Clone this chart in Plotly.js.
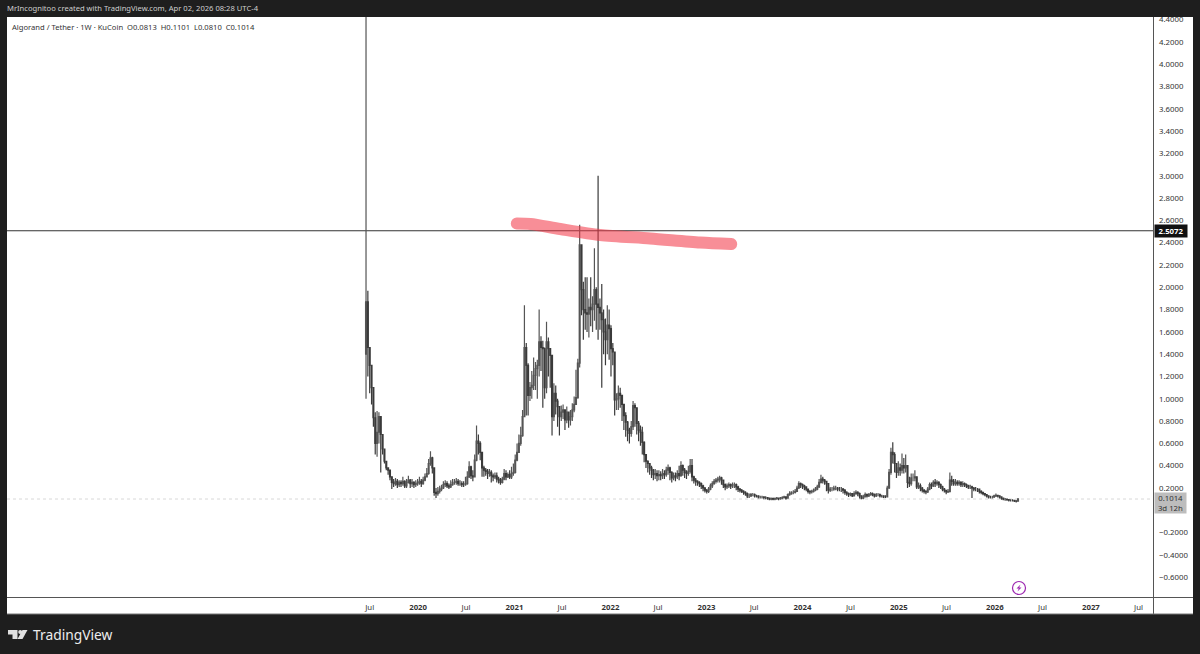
<!DOCTYPE html>
<html><head><meta charset="utf-8">
<script src="https://cdn.plot.ly/plotly-3.0.1.min.js"></script>
<style>html,body{margin:0;padding:0;background:#1e1e1e}#c{width:1200px;height:654px}</style>
</head><body><div id="c"></div>
<script>
const firstWeek = "2019-06-17";
const firstOpen = 1.40;
const closes = [
1.87,1.46,1.30,1.10,.83,.60,.70,.84,.68,.55,
.44,.38,.36,.30,.25,.24,.26,.23,.25,.24,
.26,.22,.25,.27,.24,.25,.23,.24,.25,.26,
.24,.27,.30,.33,.42,.47,.38,.16,.15,.17,
.19,.20,.23,.24,.22,.21,.23,.25,.25,.26,
.24,.24,.23,.23,.24,.30,.39,.31,.30,.45,
.62,.60,.52,.38,.36,.35,.33,.34,.31,.30,
.31,.28,.27,.25,.28,.33,.30,.32,.30,.33,
.34,.45,.52,.60,.67,.84,1.46,1.30,1.03,1.10,
1.12,1.21,1.27,1.30,1.51,1.46,1.45,1.10,1.51,1.45,
1.39,.84,1.05,.98,.93,.84,.88,.90,.81,.88,
.81,.84,.90,.95,1.01,1.32,2.38,1.98,1.80,1.77,
1.76,1.82,1.80,1.85,1.98,1.85,1.82,1.77,1.71,1.60,
1.53,1.66,1.63,1.45,1.42,.99,1.00,1.05,1.03,.95,
.85,.79,.72,.69,.75,.94,.92,.78,.72,.70,
.61,.50,.44,.42,.38,.36,.32,.33,.31,.32,
.31,.33,.32,.36,.38,.34,.29,.31,.30,.33,
.31,.40,.36,.34,.33,.35,.40,.30,.27,.26,
.25,.24,.22,.20,.18,.17,.19,.22,.24,.26,
.27,.28,.29,.27,.23,.21,.22,.23,.22,.23,
.23,.21,.19,.18,.17,.16,.15,.13,.13,.14,
.14,.13,.13,.12,.12,.12,.115,.115,.11,.10,
.105,.10,.105,.11,.105,.11,.115,.12,.11,.14,
.15,.16,.16,.17,.20,.24,.23,.22,.21,.19,
.17,.165,.17,.18,.19,.21,.25,.28,.27,.26,
.24,.18,.19,.19,.20,.20,.19,.19,.19,.18,
.16,.15,.14,.15,.13,.15,.16,.15,.13,.11,
.12,.14,.13,.14,.15,.14,.13,.14,.14,.13,
.13,.12,.12,.20,.34,.52,.50,.42,.34,.38,
.36,.40,.38,.40,.25,.24,.29,.29,.30,.21,
.22,.20,.18,.17,.165,.19,.23,.22,.25,.24,
.25,.23,.21,.19,.18,.165,.17,.27,.26,.24,
.25,.24,.25,.23,.24,.23,.22,.21,.21,.20,
.19,.19,.19,.17,.16,.15,.14,.13,.12,.12,
.12,.13,.135,.13,.12,.11,.10,.10,.095,.09,
.09,.09,.085,.0813,.1014];
const highs = [
4.70,1.97,1.46,1.30,1.10,.88,.89,.88,.84,.68,
.55,.44,.38,.36,.30,.28,.29,.28,.27,.27,
.30,.27,.28,.31,.28,.28,.26,.27,.28,.30,
.28,.30,.33,.38,.46,.53,.48,.38,.20,.21,
.22,.23,.26,.27,.26,.24,.27,.28,.28,.29,
.28,.27,.26,.26,.30,.35,.44,.40,.36,.50,
.76,.68,.62,.52,.40,.38,.37,.37,.36,.33,
.34,.34,.30,.29,.30,.37,.36,.34,.36,.39,
.42,.50,.60,.68,.75,.90,1.84,1.50,1.32,1.15,
1.25,1.37,1.33,1.35,1.80,1.56,1.52,1.46,1.69,1.55,
1.45,1.39,1.14,1.12,1.00,.93,.94,.95,.90,.93,
.88,.90,.96,1.02,1.26,1.36,2.56,2.38,2.05,2.09,
2.09,1.90,2.09,1.92,2.35,2.00,3.00,1.90,2.03,1.80,
1.72,1.84,1.80,1.66,1.50,1.42,1.05,1.12,1.10,1.03,
.95,.88,.80,.74,.80,.98,.96,.92,.80,.76,
.75,.62,.50,.45,.42,.40,.37,.37,.36,.36,
.35,.37,.36,.39,.41,.39,.35,.34,.34,.36,
.40,.44,.41,.38,.36,.40,.46,.46,.31,.29,
.27,.26,.25,.23,.21,.19,.21,.24,.26,.28,
.29,.30,.31,.30,.27,.24,.24,.25,.24,.25,
.25,.24,.22,.20,.19,.18,.17,.16,.15,.155,
.155,.15,.14,.135,.13,.13,.125,.125,.12,.115,
.115,.115,.115,.12,.115,.12,.125,.13,.125,.15,
.17,.17,.18,.19,.22,.26,.25,.24,.23,.21,
.19,.18,.185,.195,.21,.23,.28,.32,.30,.28,
.26,.24,.21,.21,.22,.22,.21,.21,.21,.20,
.19,.17,.16,.16,.155,.17,.18,.17,.16,.13,
.14,.16,.15,.155,.165,.16,.15,.155,.155,.15,
.14,.135,.135,.22,.37,.56,.61,.52,.42,.44,
.42,.51,.47,.50,.40,.30,.33,.33,.36,.30,
.25,.24,.21,.19,.18,.21,.25,.25,.27,.28,
.27,.26,.24,.22,.20,.185,.19,.34,.31,.28,
.28,.27,.27,.26,.26,.25,.24,.23,.23,.22,
.21,.21,.20,.19,.18,.165,.155,.145,.135,.13,
.13,.14,.15,.14,.135,.125,.115,.11,.105,.10,
.10,.10,.095,.09,.1101];
const lows = [
1.00,1.20,1.05,.95,.75,.50,.48,.60,.34,.50,
.42,.36,.32,.27,.19,.21,.22,.20,.21,.21,
.22,.20,.20,.24,.20,.21,.20,.21,.22,.23,
.21,.23,.26,.30,.32,.40,.33,.13,.11,.13,
.15,.17,.19,.21,.20,.19,.20,.22,.23,.23,
.22,.22,.21,.21,.22,.23,.29,.28,.26,.30,
.44,.50,.45,.30,.30,.31,.28,.30,.25,.26,
.28,.25,.24,.23,.24,.27,.27,.29,.28,.28,
.31,.33,.44,.52,.58,.66,.84,.85,.85,.98,
1.00,1.08,1.08,1.00,1.20,1.25,.92,1.00,1.05,1.20,
1.10,.67,.80,.86,.75,.67,.80,.82,.72,.78,
.74,.76,.80,.88,.95,1.00,1.28,1.75,1.53,1.62,
1.60,1.55,1.65,1.60,1.70,1.62,1.53,1.62,1.10,1.40,
1.30,1.40,1.35,1.20,1.30,.85,.90,.90,.92,.80,
.72,.66,.62,.60,.66,.72,.75,.68,.62,.58,
.50,.43,.38,.34,.32,.29,.27,.28,.26,.27,
.27,.28,.28,.30,.32,.27,.25,.27,.26,.28,
.27,.30,.31,.29,.28,.31,.33,.26,.24,.22,
.22,.21,.19,.17,.16,.15,.155,.18,.20,.23,
.24,.25,.25,.23,.20,.18,.19,.20,.19,.20,
.20,.18,.165,.16,.155,.14,.13,.11,.11,.12,
.125,.115,.115,.105,.105,.105,.10,.10,.095,.09,
.09,.09,.09,.095,.09,.095,.10,.105,.095,.105,
.13,.14,.145,.15,.165,.19,.20,.19,.18,.17,
.15,.145,.15,.16,.17,.18,.20,.24,.24,.23,
.17,.15,.165,.17,.175,.18,.17,.17,.165,.15,
.14,.13,.12,.125,.12,.125,.14,.125,.105,.10,
.10,.115,.115,.12,.13,.125,.115,.12,.125,.115,
.115,.11,.11,.115,.19,.32,.42,.34,.29,.31,
.31,.33,.33,.34,.20,.21,.22,.26,.26,.19,
.19,.17,.16,.15,.145,.155,.18,.19,.21,.21,
.22,.20,.19,.17,.16,.145,.155,.16,.22,.22,
.22,.22,.22,.21,.21,.21,.20,.19,.19,.11,
.17,.17,.165,.15,.145,.135,.125,.115,.105,.105,
.105,.11,.12,.115,.105,.095,.09,.085,.085,.08,
.08,.08,.075,.07,.081];
const timeTickDates = ["2019-07-01","2020-01-01","2020-07-01","2021-01-01","2021-07-01","2022-01-01","2022-07-01","2023-01-01","2023-07-01","2024-01-01","2024-07-01","2025-01-01","2025-07-01","2026-01-01","2026-07-01","2027-01-01","2027-07-01"];
const timeTickLabels = ["Jul","<b>2020</b>","Jul","<b>2021</b>","Jul","<b>2022</b>","Jul","<b>2023</b>","Jul","<b>2024</b>","Jul","<b>2025</b>","Jul","<b>2026</b>","Jul","<b>2027</b>","Jul"];
const priceTicks = [-0.6,-0.4,-0.2,0.2,0.4,0.6,0.8,1,1.2,1.4,1.6,1.8,2,2.2,2.4,2.6,2.8,3,3.2,3.4,3.6,3.8,4,4.2,4.4];
const brushDates = ["2021-01-10","2021-03-03","2021-06-24","2021-11-23","2022-06-01","2022-12-08","2023-04-05"];
const brushValues = [2.572,2.568,2.523,2.469,2.438,2.402,2.388];
const levelPrice = 2.5072;
const lastPrice = 0.1014;
const headerText = "MrIncognitoo created with TradingView.com, Apr 02, 2026 08:28 UTC-4";
const legendText = "Algorand / Tether · 1W · KuCoin  O0.0813  H0.1101  L0.0810  C0.1014";

const weeks = closes.map((_, i) => {
  const d = new Date(firstWeek + "T00:00:00Z");
  d.setUTCDate(d.getUTCDate() + 7 * i);
  return d.toISOString().slice(0, 10);
});
const opens = closes.map((c, i) => i === 0 ? firstOpen : closes[i - 1]);

// pixel helpers for the page furniture (not for data)
const L = 7, R = 1153, T = 17, B = 598;
const px = v => (v - L) / (R - L);
const py = v => (B - v) / (B - T);
const rect = (x0, y0, x1, y1, fill, layer) => ({type:"rect", xref:"paper", yref:"paper", x0:px(x0), x1:px(x1), y0:py(y0), y1:py(y1), fillcolor:fill, line:{width:0}, layer:layer||"below"});
const seg = (x0, y0, x1, y1, col) => ({type:"line", xref:"paper", yref:"paper", x0:px(x0), x1:px(x1), y0:py(y0), y1:py(y1), line:{color:col, width:1}, layer:"below"});
const poly = (pts, fill, lineCol) => ({type:"path", xref:"paper", yref:"paper", path:"M" + pts.map(p => px(p[0]) + "," + py(p[1])).join(" L") + " Z", fillcolor:fill, line:{width:lineCol?1:0, color:lineCol||fill}, layer:"above"});
const FONT = "Noto Sans, Liberation Sans, sans-serif";
const text = (x, y, t, size, col, anchor, extra) => Object.assign({xref:"paper", yref:"paper", x:px(x), y:py(y), text:t, showarrow:false, xanchor:anchor||"left", yanchor:"middle", font:{family:FONT, size:size, color:col}, borderpad:0}, extra||{});

const data = [
  {type:"candlestick", x:weeks, open:opens, high:highs, low:lows, close:closes,
   increasing:{line:{color:"#555555", width:1.2}, fillcolor:"#777777"},
   decreasing:{line:{color:"#3a3a3a", width:1.2}, fillcolor:"#2a2a2a"},
   whiskerwidth:0, hoverinfo:"skip", showlegend:false},
  {type:"scatter", mode:"lines", x:brushDates, y:brushValues,
   line:{color:"#f23645", width:12, shape:"spline", smoothing:0.8}, opacity:0.56,
   hoverinfo:"skip", showlegend:false}
];
const layout = {
  width:1200, height:654, autosize:false,
  margin:{l:L, r:1200-R, t:T, b:654-B, pad:0},
  paper_bgcolor:"#1e1e1e", plot_bgcolor:"#ffffff", showlegend:false, dragmode:false,
  font:{family:FONT, size:7.8, color:"#333333"},
  xaxis:{type:"date", range:["2015-09-21 12:00","2027-08-25"], rangeslider:{visible:false}, showgrid:false, zeroline:false,
    tickmode:"array", tickvals:timeTickDates, ticktext:timeTickLabels, ticks:"", tickangle:0, showline:false,
    ticklabelstandoff:3, tickfont:{family:FONT, size:7.8, color:"#333333"}},
  yaxis:{side:"right", range:[-0.7865,4.4243], showgrid:false, zeroline:false, showline:false,
    tickmode:"array", tickvals:priceTicks, tickformat:".4f", ticks:"", ticklabelstandoff:5,
    tickfont:{family:FONT, size:7.8, color:"#333333"}},
  shapes:[
    rect(L, B, 1193, 614, "#ffffff"),
    rect(R, T, 1193, 614, "#ffffff"),
    seg(L, B-0.5, 1193, B-0.5, "#555555"),
    seg(R+0.5, T, R+0.5, 614, "#555555"),
    seg(L, 614, 1193, 614, "#777777"),
    {type:"line", xref:"paper", yref:"y", x0:0, x1:1, y0:levelPrice, y1:levelPrice, line:{color:"#333333", width:1}, layer:"below"},
    {type:"line", xref:"paper", yref:"y", x0:0, x1:1, y0:lastPrice, y1:lastPrice, line:{color:"#d8d8d8", width:1, dash:"dot"}, layer:"below"},
    rect(0, 0, 1200, T, "#1e1e1e", "above"),
    // lightning badge
    {type:"circle", xref:"paper", yref:"paper", x0:px(1012.5), x1:px(1025.5), y0:py(581.5), y1:py(594.5), fillcolor:"#ffffff", line:{color:"#9c27b0", width:1.2}, layer:"above"},
    poly([[1020.5,584.5],[1016.5,588.6],[1018.8,588.6],[1017.5,591.5],[1021.5,587.4],[1019.2,587.4]], "#9c27b0"),
    // TradingView mark
    poly([[8,630],[17.5,630],[17.5,639],[12.5,639],[12.5,634.5],[8,634.5]], "#e0e0e0"),
    {type:"circle", xref:"paper", yref:"paper", x0:px(18.2), x1:px(22.2), y0:py(630), y1:py(634), fillcolor:"#e0e0e0", line:{width:0}, layer:"above"},
    poly([[22.5,630],[27.5,630],[22.5,639],[17.5,639]], "#e0e0e0")
  ],
  annotations:[
    text(6, 8.5, headerText, 7.6, "#cfcfcf"),
    text(11, 27, legendText.replace(/  /g, "&nbsp;&nbsp;"), 7.6, "#333333"),
    text(1153.5, 231, "<b>2.5072</b>", 7.8, "#ffffff", "left", {bgcolor:"#111111", width:32, height:12, align:"center"}),
    text(1154, 503, "0.1014<br>3d 12h", 7.8, "#333333", "left", {bgcolor:"#bdbdbd", width:31, height:20, align:"center"}),
    text(31.5, 634.5, "TradingView", 13.8, "#ececec")
  ]
};
Plotly.newPlot("c", data, layout, {staticPlot:true, displayModeBar:false}).then(() => {
  document.querySelectorAll(".scatterlayer .js-line").forEach(p => { p.style.strokeLinecap = "round"; });
});
</script></body></html>
